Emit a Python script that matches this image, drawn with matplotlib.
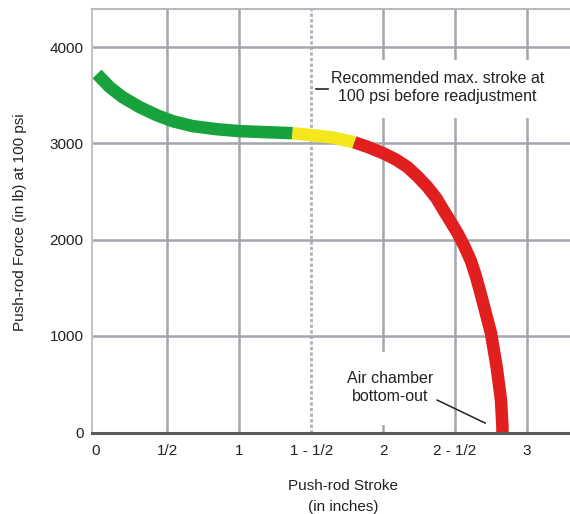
import matplotlib
matplotlib.use("Agg")
import matplotlib.pyplot as plt
from matplotlib.patches import Rectangle

plt.rcParams['font.family'] = ['Liberation Sans', 'DejaVu Sans']

# Data (stroke in inches, force in lb)
green_x = [0.01, 0.098, 0.188, 0.307, 0.425, 0.537, 0.676, 0.843, 1.003, 1.19, 1.37]
green_y = [3720, 3583, 3479, 3375, 3292, 3229, 3178, 3146, 3126, 3115, 3105]
yellow_x = [1.37, 1.505, 1.65, 1.80]
yellow_y = [3105, 3084, 3060, 3010]
red_x = [1.80, 1.90, 2.0, 2.09, 2.17, 2.24, 2.31, 2.37, 2.42, 2.47, 2.52, 2.565, 2.61, 2.645, 2.68,
         2.715, 2.75, 2.79, 2.82, 2.83, 2.83]
red_y = [3010, 2958, 2897, 2830, 2752, 2655, 2544, 2430, 2305, 2185, 2060, 1930, 1780, 1620, 1430,
         1230, 1030, 675, 332, 52, 0]

xticks = [0, 0.5, 1, 1.5, 2, 2.5, 3]
xticklabels = ['0', '1/2', '1', '1 - 1/2', '2', '2 - 1/2', '3']
yticks = [0, 1000, 2000, 3000, 4000]
yticklabels = ['0', '1000', '2000', '3000', '4000']

fig = plt.figure(figsize=(5.70, 5.14), dpi=100)
ax = fig.add_axes([92/570, 1-433/514, 1-92/570, (433-9)/514])
ax.set_xlim(-0.025, 3.30)
ax.set_ylim(-10, 4395)

grid_c = '#a4a6ad'
for xv in xticks:
    if xv == 1.5:
        ax.axvline(xv, color='#b0b1b7', lw=2.0, ls=(0, (1.2, 0.8)), zorder=1)
    elif xv != 0:
        ax.axvline(xv, color=grid_c, lw=1.8, zorder=1)
for yv in yticks[1:]:
    ax.axhline(yv, color=grid_c, lw=1.8, zorder=1)

# white label boxes hiding the grid
ax.add_patch(Rectangle((1.53, 3260), 2.0, 603, fc='white', ec='none', zorder=2))
ax.add_patch(Rectangle((1.62, 70), 0.82, 760, fc='white', ec='none', zorder=2))

lw = 9
kw = dict(lw=lw, solid_capstyle='butt', solid_joinstyle='round', zorder=3)
ax.plot(green_x, green_y, color='#17a23d', **kw)
ax.plot(yellow_x, yellow_y, color='#f4e81c', **kw)
ax.plot(red_x, red_y, color='#e11f1f', **kw)

ax.spines['right'].set_visible(False)
ax.spines['top'].set_color('#b8b9be')
ax.spines['top'].set_linewidth(1.5)
ax.spines['left'].set_color('#c4c5ca')
ax.spines['left'].set_linewidth(1.5)
ax.spines['bottom'].set_color('#5a5a5e')
ax.spines['bottom'].set_linewidth(2.2)

ax.set_xticks(xticks)
ax.set_xticklabels(xticklabels)
ax.set_yticks(yticks)
ax.set_yticklabels(yticklabels)
ax.tick_params(length=0, labelsize=11, colors='#222222')
ax.tick_params(axis='x', pad=8)
ax.tick_params(axis='y', pad=6)

fig.text(343/570, 1-486/514, 'Push-rod Stroke', ha='center', va='center', fontsize=11, color='#222222')
fig.text(343/570, 1-507/514, '(in inches)', ha='center', va='center', fontsize=11, color='#222222')
fig.text(20/570, 1-222/514, 'Push-rod Force (in lb) at 100 psi', rotation=90, ha='center', va='center',
         fontsize=11, color='#222222')

ax.text(2.38, 3575, 'Recommended max. stroke at\n100 psi before readjustment', ha='center', va='center',
        fontsize=11.5, color='#222222', linespacing=1.25, zorder=5)
ax.plot([1.53, 1.62], [3560, 3560], color='#222222', lw=1.2, zorder=6)

ax.text(2.05, 462, 'Air chamber\nbottom-out', ha='center', va='center', fontsize=11.5, color='#222222',
        linespacing=1.25, zorder=5)
ax.plot([2.376, 2.71], [332, 93], color='#222222', lw=1.1, zorder=6)

fig.savefig('out.png', dpi=100, facecolor='white')
